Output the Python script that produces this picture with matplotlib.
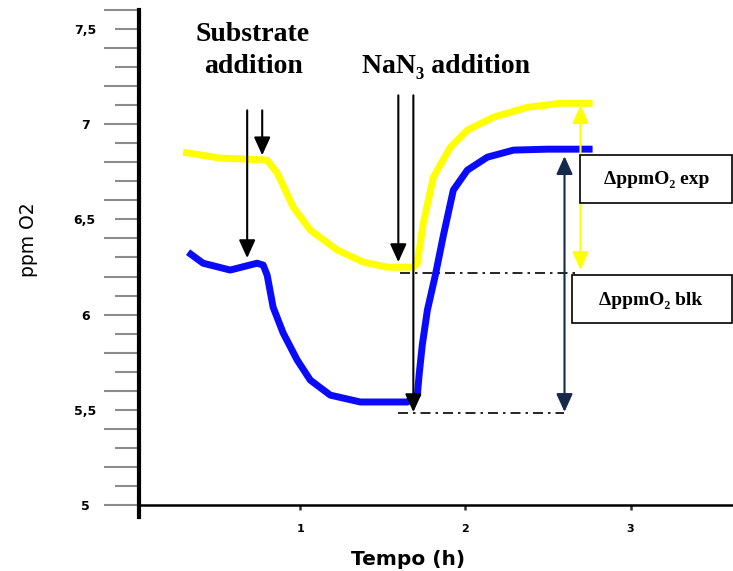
import numpy as np
import matplotlib
matplotlib.use("Agg")
import matplotlib.pyplot as plt
from matplotlib.patches import Rectangle

# yellow trace (experiment)
exp_t = [0.291, 0.515, 0.697, 0.800, 0.861, 0.958, 1.061, 1.224, 1.382, 1.527,
         1.685, 1.709, 1.745, 1.806, 1.909, 2.012, 2.170, 2.376, 2.576, 2.770]
exp_o2 = [6.853, 6.822, 6.816, 6.811, 6.743, 6.564, 6.444, 6.339, 6.276, 6.249,
          6.249, 6.270, 6.480, 6.722, 6.879, 6.969, 7.037, 7.089, 7.110, 7.110]

# blue trace (blank)
blk_t = [0.321, 0.412, 0.576, 0.739, 0.776, 0.800, 0.836, 0.897, 0.982, 1.061,
         1.182, 1.364, 1.648, 1.709, 1.721, 1.739, 1.770, 1.818, 1.867, 1.927,
         2.012, 2.133, 2.291, 2.497, 2.770]
blk_o2 = [6.328, 6.270, 6.234, 6.270, 6.260, 6.207, 6.039, 5.903, 5.761, 5.656,
          5.577, 5.541, 5.541, 5.577, 5.693, 5.840, 6.024, 6.207, 6.417, 6.654,
          6.759, 6.827, 6.864, 6.869, 6.869]

# event arrows: (time, top, tip)
substrate_arrows = [(0.679, 7.073, 6.297), (0.770, 7.073, 6.837)]
nan3_arrows = [(1.594, 7.152, 6.276), (1.685, 7.152, 5.488)]

# reference levels
exp_min, blk_min = 6.218, 5.483
exp_line_x = [1.606, 2.685]
blk_line_x = [1.594, 2.594]
delta_exp = (2.697, 7.100, 6.234)
delta_blk = (2.600, 6.832, 5.489)

x_ticks = [1, 2, 3]

fig = plt.figure(figsize=(7.33, 5.71), dpi=100)
ax = fig.add_axes([0.1896, 0.1156, 0.8104, 0.8669])

ax.plot(exp_t, exp_o2, color="#ffff00", lw=5, solid_capstyle="butt", zorder=3)
ax.plot(blk_t, blk_o2, color="#0a0aff", lw=5, solid_capstyle="butt", zorder=3)

arrow_k = dict(arrowstyle="-|>,head_length=0.55,head_width=0.25", color="black",
               lw=1.5, shrinkA=0, shrinkB=0, mutation_scale=20)
for t, top, tip in substrate_arrows + nan3_arrows:
    ax.annotate("", xy=(t, tip), xytext=(t, top), arrowprops=arrow_k, zorder=5)

ax.plot(exp_line_x, [exp_min, exp_min], color="black", lw=1.2,
        linestyle=(0, (6, 3, 1.5, 3)))
ax.plot(blk_line_x, [blk_min, blk_min], color="black", lw=1.2,
        linestyle=(0, (6, 3, 1.5, 3)))

ax.annotate("", xy=(delta_exp[0], delta_exp[1]), xytext=(delta_exp[0], delta_exp[2]),
            arrowprops=dict(arrowstyle="<|-|>,head_length=0.55,head_width=0.25",
                            color="#ffff00", lw=1.5, shrinkA=0, shrinkB=0,
                            mutation_scale=20))
ax.annotate("", xy=(delta_blk[0], delta_blk[1]), xytext=(delta_blk[0], delta_blk[2]),
            arrowprops=dict(arrowstyle="<|-|>,head_length=0.55,head_width=0.25",
                            color="#15294a", lw=1.5, shrinkA=0, shrinkB=0,
                            mutation_scale=20))

ax.set_xlim(0.024, 3.62)
ax.set_ylim(5, 7.6)

for s in ["top", "right"]:
    ax.spines[s].set_visible(False)
ax.spines["left"].set_linewidth(3)
ax.spines["left"].set_bounds(4.937, 7.6)
ax.spines["bottom"].set_linewidth(1.8)

# y ticks: long at even tenths, short at odd tenths
long_ticks = np.round(np.arange(5.0, 7.61, 0.2), 1)
short_ticks = np.round(np.arange(5.1, 7.51, 0.2), 1)
ax.set_yticks(long_ticks)
ax.set_yticklabels([str(int(v)) if abs(v - round(v)) < 1e-6 else "" for v in long_ticks])
ax.set_yticks(short_ticks, minor=True)
ax.set_yticklabels([f"{v:.1f}".replace(".", ",") if abs(v * 2 - round(v * 2)) < 1e-6 else ""
                    for v in short_ticks], minor=True)
ax.tick_params(axis="y", which="major", length=25, width=1.5, color="#8c8c8c",
               pad=13.5, labelsize=9)
ax.tick_params(axis="y", which="minor", length=17.5, width=1.5, color="#8c8c8c",
               pad=21.5, labelsize=9)
for lab in ax.get_yticklabels() + ax.get_yticklabels(minor=True):
    lab.set_ha("center")
    lab.set_fontweight("bold")

ax.set_xticks(x_ticks)
ax.set_xticklabels([str(v) for v in x_ticks], fontweight="bold")
ax.tick_params(axis="x", length=3.5, width=1.8, color="#333333", pad=10.5, labelsize=8)

ax.set_xlabel("Tempo (h)", fontsize=14.5, fontweight="bold")
ax.xaxis.set_label_coords(0.453, -0.09)
fig.text(0.039, 0.58, "ppm O2", rotation=90, fontsize=13.5, ha="center", va="center")

serif = ["Liberation Serif", "DejaVu Serif"]
fig.text(0.345, 0.94, "Substrate", fontsize=20, fontweight="bold", family=serif,
         ha="center", va="center")
fig.text(0.3465, 0.884, "addition", fontsize=20, fontweight="bold", family=serif,
         ha="center", va="center")
fig.text(0.608, 0.884, "NaN\u2083 addition", fontsize=20, fontweight="bold",
         family=serif, ha="center", va="center")

fig.patches.append(Rectangle((0.7913, 0.6445), 0.2072, 0.084, transform=fig.transFigure,
                             fill=True, facecolor="white", edgecolor="black", lw=1.2,
                             zorder=6))
fig.patches.append(Rectangle((0.7804, 0.4343), 0.2181, 0.084, transform=fig.transFigure,
                             fill=True, facecolor="white", edgecolor="black", lw=1.2,
                             zorder=6))
fig.text(0.896, 0.6848, "\u0394ppmO\u2082 exp", fontsize=14, fontweight="bold",
         family=serif, ha="center", va="center", zorder=7)
fig.text(0.887, 0.4746, "\u0394ppmO\u2082 blk", fontsize=14, fontweight="bold",
         family=serif, ha="center", va="center", zorder=7)

fig.savefig("out.png", dpi=100)
